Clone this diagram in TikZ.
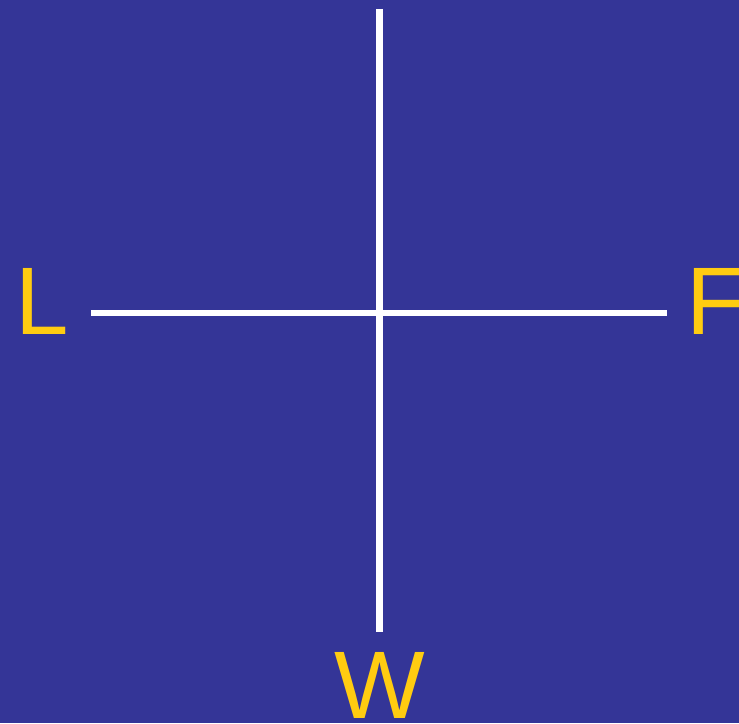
\documentclass[tikz,border=0pt]{standalone}
\usepackage{fontspec}
\setmainfont{Liberation Sans}
\usepackage{tikz}
\usetikzlibrary{positioning}
\definecolor{bgblue}{RGB}{52,53,151}
\definecolor{lblyellow}{RGB}{255,204,17}
\tikzset{%
  axis/.style={draw=white, line width=6.5pt},
  lbl/.style={text=lblyellow, font=\fontsize{96}{96}\selectfont, inner sep=0pt}%
}

\begin{document}
\begin{tikzpicture}[x=1pt, y=1pt]

% Background and bounding box
\fill[bgblue] (0,0) rectangle (739,723);
\useasboundingbox (0,0) rectangle (739,723);

% Line ends
\coordinate (top) at (379.5,714);
\coordinate (bottom) at (379.5,90.5);
\coordinate (left) at (91,410);
\coordinate (right) at (667,410);

% Labels
\node[lbl, anchor=base west] (lab-l) at (15,388) {L};
\node[lbl, anchor=base west] (lab-f) at (686,388) {F};
\node[lbl, anchor=base] (lab-w) at (379.5,4.7) {W};

% Axes
\draw[axis] (top) -- (bottom);
\draw[axis] (left) -- (right);

\end{tikzpicture}
\end{document}
